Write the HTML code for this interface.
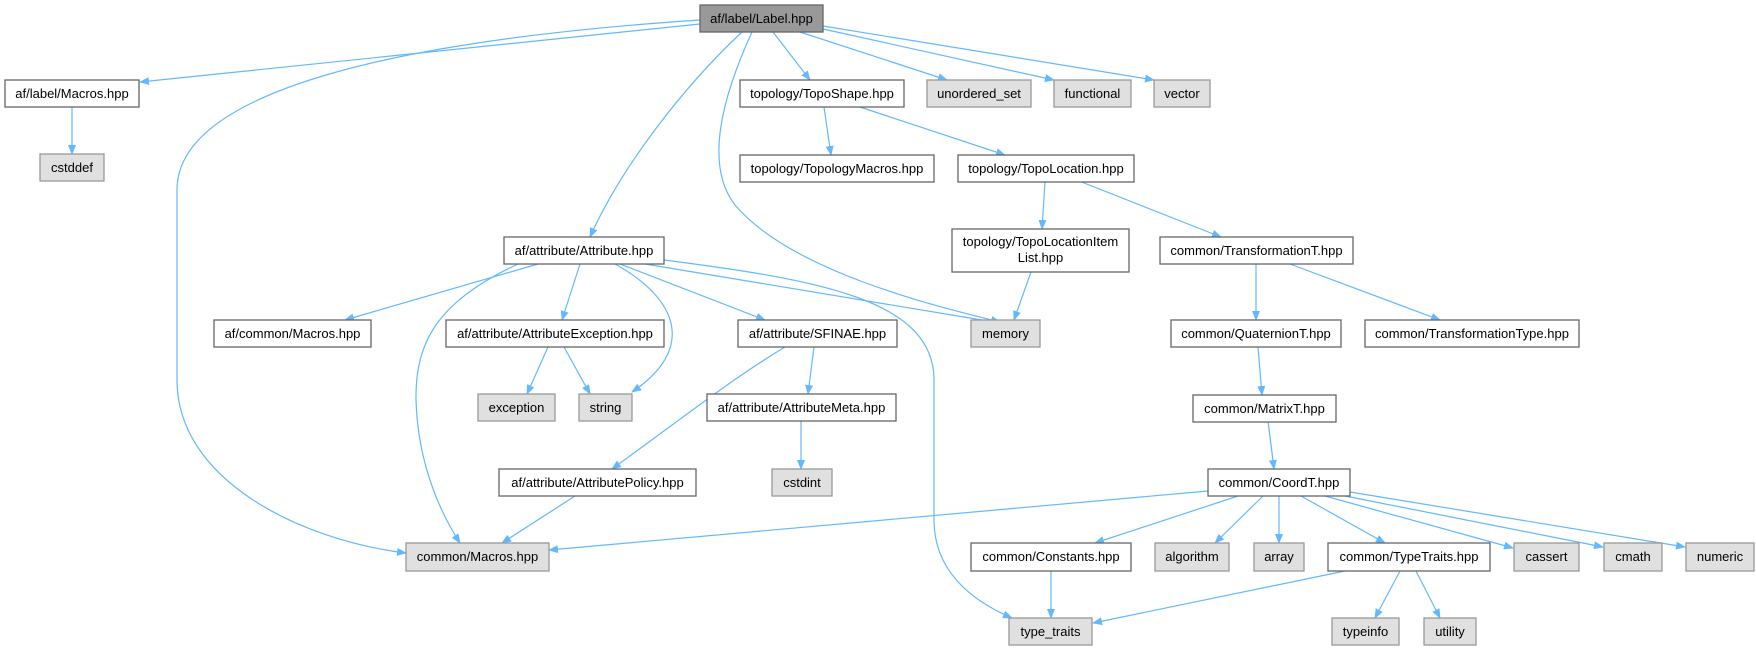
<!DOCTYPE html>
<html><head><meta charset="utf-8"><style>
html,body{margin:0;padding:0;background:#fff;width:1756px;height:651px;overflow:hidden}
svg{display:block}
text{font-family:"Liberation Sans",Arial,sans-serif;font-size:13px;fill:#000;text-anchor:middle}
.n rect{fill:#fff;stroke:#666;stroke-width:1.3}
.g rect{fill:#e0e0e0;stroke:#999;stroke-width:1.3}
.r rect{fill:#999;stroke:#666;stroke-width:1.3}
path.e{fill:none;stroke:#63b8ff;stroke-width:1.2;marker-end:url(#a)}
</style></head><body>
<svg width="1756" height="651" viewBox="0 0 1756 651">
<defs><marker id="a" markerWidth="10" markerHeight="8" refX="9" refY="4" orient="auto" markerUnits="userSpaceOnUse"><path d="M0,0 L10,4 L0,8 z" fill="#63b8ff"/></marker></defs>
<!-- edges -->
<path class="e" d="M700,24 L140,82"/>
<path class="e" d="M700,20 C400,40 177,90 177,190 L177,380 C177,480 300,540 406,553"/>
<path class="e" d="M773,32 L810,80"/>
<path class="e" d="M742,32 C680,90 620,170 590,237"/>
<path class="e" d="M752,32 C730,80 700,160 735,205 C790,270 930,305 1000,322"/>
<path class="e" d="M800,32 L947,80"/>
<path class="e" d="M823,29 L1054,80"/>
<path class="e" d="M823,26 L1154,80"/>
<path class="e" d="M72,107 L72,154"/>
<path class="e" d="M824,107 L831,155"/>
<path class="e" d="M860,107 L1005,155"/>
<path class="e" d="M1045,181 L1042,229"/>
<path class="e" d="M1079,181 L1221,237"/>
<path class="e" d="M1031,272 L1014,320"/>
<path class="e" d="M1256,264 L1256,320"/>
<path class="e" d="M1290,264 L1440,320"/>
<path class="e" d="M1258,347 L1262,395"/>
<path class="e" d="M1268,421 L1274,469"/>
<path class="e" d="M538,264 L345,320"/>
<path class="e" d="M518,264 C440,300 415,340 416,400 C418,470 445,520 460,543"/>
<path class="e" d="M580,264 L562,320"/>
<path class="e" d="M615,264 C680,300 695,350 632,392"/>
<path class="e" d="M620,264 L765,320"/>
<path class="e" d="M645,264 L1000,323"/>
<path class="e" d="M664,260 C820,280 934,300 934,380 L934,520 C934,570 970,600 1012,618"/>
<path class="e" d="M548,347 L527,394"/>
<path class="e" d="M564,347 L590,394"/>
<path class="e" d="M814,347 L808,394"/>
<path class="e" d="M785,347 C730,380 680,420 612,469"/>
<path class="e" d="M801,421 L801,469"/>
<path class="e" d="M575,496 L502,543"/>
<path class="e" d="M1208,491 L549,550"/>
<path class="e" d="M1238,496 L1095,543"/>
<path class="e" d="M1263,496 L1215,543"/>
<path class="e" d="M1279,496 L1279,543"/>
<path class="e" d="M1301,496 L1385,543"/>
<path class="e" d="M1325,496 L1513,548"/>
<path class="e" d="M1340,495 L1603,547"/>
<path class="e" d="M1350,492 L1685,547"/>
<path class="e" d="M1051,571 L1051,618"/>
<path class="e" d="M1345,571 L1093,623"/>
<path class="e" d="M1400,571 L1375,618"/>
<path class="e" d="M1416,571 L1440,618"/>
<!-- nodes -->
<g class="r"><rect x="700" y="5" width="123" height="27"/><text x="761.5" y="23">af/label/Label.hpp</text></g>
<g class="n"><rect x="5" y="80" width="134" height="27"/><text x="72" y="98">af/label/Macros.hpp</text></g>
<g class="g"><rect x="40" y="154" width="64" height="27"/><text x="72" y="172">cstddef</text></g>
<g class="n"><rect x="740" y="80" width="164" height="27"/><text x="822" y="98">topology/TopoShape.hpp</text></g>
<g class="g"><rect x="927" y="80" width="104" height="27"/><text x="979" y="98">unordered_set</text></g>
<g class="g"><rect x="1054" y="80" width="77" height="27"/><text x="1092.5" y="98">functional</text></g>
<g class="g"><rect x="1154" y="80" width="56" height="27"/><text x="1182" y="98">vector</text></g>
<g class="n"><rect x="740" y="155" width="194" height="27"/><text x="837" y="173">topology/TopologyMacros.hpp</text></g>
<g class="n"><rect x="958" y="155" width="176" height="27"/><text x="1046" y="173">topology/TopoLocation.hpp</text></g>
<g class="n"><rect x="952" y="229" width="177" height="43"/><text x="1040.5" y="246">topology/TopoLocationItem</text><text x="1040.5" y="262">List.hpp</text></g>
<g class="n"><rect x="1160" y="237" width="193" height="27"/><text x="1256.5" y="255">common/TransformationT.hpp</text></g>
<g class="n"><rect x="504" y="237" width="160" height="27"/><text x="584" y="255">af/attribute/Attribute.hpp</text></g>
<g class="n"><rect x="214" y="320" width="157" height="27"/><text x="292.5" y="338">af/common/Macros.hpp</text></g>
<g class="n"><rect x="446" y="320" width="218" height="27"/><text x="555" y="338">af/attribute/AttributeException.hpp</text></g>
<g class="n"><rect x="738" y="320" width="159" height="27"/><text x="817.5" y="338">af/attribute/SFINAE.hpp</text></g>
<g class="g"><rect x="971" y="320" width="69" height="27"/><text x="1005.5" y="338">memory</text></g>
<g class="n"><rect x="1171" y="320" width="170" height="27"/><text x="1256" y="338">common/QuaternionT.hpp</text></g>
<g class="n"><rect x="1365" y="320" width="214" height="27"/><text x="1472" y="338">common/TransformationType.hpp</text></g>
<g class="g"><rect x="478" y="394" width="77" height="27"/><text x="516.5" y="412">exception</text></g>
<g class="g"><rect x="579" y="394" width="53" height="27"/><text x="605.5" y="412">string</text></g>
<g class="n"><rect x="707" y="394" width="189" height="27"/><text x="801.5" y="412">af/attribute/AttributeMeta.hpp</text></g>
<g class="n"><rect x="1193" y="395" width="143" height="27"/><text x="1264.5" y="413">common/MatrixT.hpp</text></g>
<g class="n"><rect x="499" y="469" width="197" height="27"/><text x="597.5" y="487">af/attribute/AttributePolicy.hpp</text></g>
<g class="g"><rect x="772" y="469" width="60" height="27"/><text x="802" y="487">cstdint</text></g>
<g class="n"><rect x="1208" y="469" width="142" height="27"/><text x="1279" y="487">common/CoordT.hpp</text></g>
<g class="g"><rect x="406" y="543" width="143" height="28"/><text x="477.5" y="561">common/Macros.hpp</text></g>
<g class="n"><rect x="971" y="543" width="160" height="28"/><text x="1051" y="561">common/Constants.hpp</text></g>
<g class="g"><rect x="1155" y="543" width="74" height="28"/><text x="1192" y="561">algorithm</text></g>
<g class="g"><rect x="1254" y="543" width="50" height="28"/><text x="1279" y="561">array</text></g>
<g class="n"><rect x="1328" y="543" width="162" height="28"/><text x="1409" y="561">common/TypeTraits.hpp</text></g>
<g class="g"><rect x="1514" y="543" width="65" height="28"/><text x="1546.5" y="561">cassert</text></g>
<g class="g"><rect x="1604" y="543" width="58" height="28"/><text x="1633" y="561">cmath</text></g>
<g class="g"><rect x="1686" y="543" width="68" height="28"/><text x="1720" y="561">numeric</text></g>
<g class="g"><rect x="1009" y="618" width="83" height="27"/><text x="1050.5" y="636">type_traits</text></g>
<g class="g"><rect x="1332" y="618" width="67" height="27"/><text x="1365.5" y="636">typeinfo</text></g>
<g class="g"><rect x="1424" y="618" width="52" height="27"/><text x="1450" y="636">utility</text></g>
</svg>
</body></html>
